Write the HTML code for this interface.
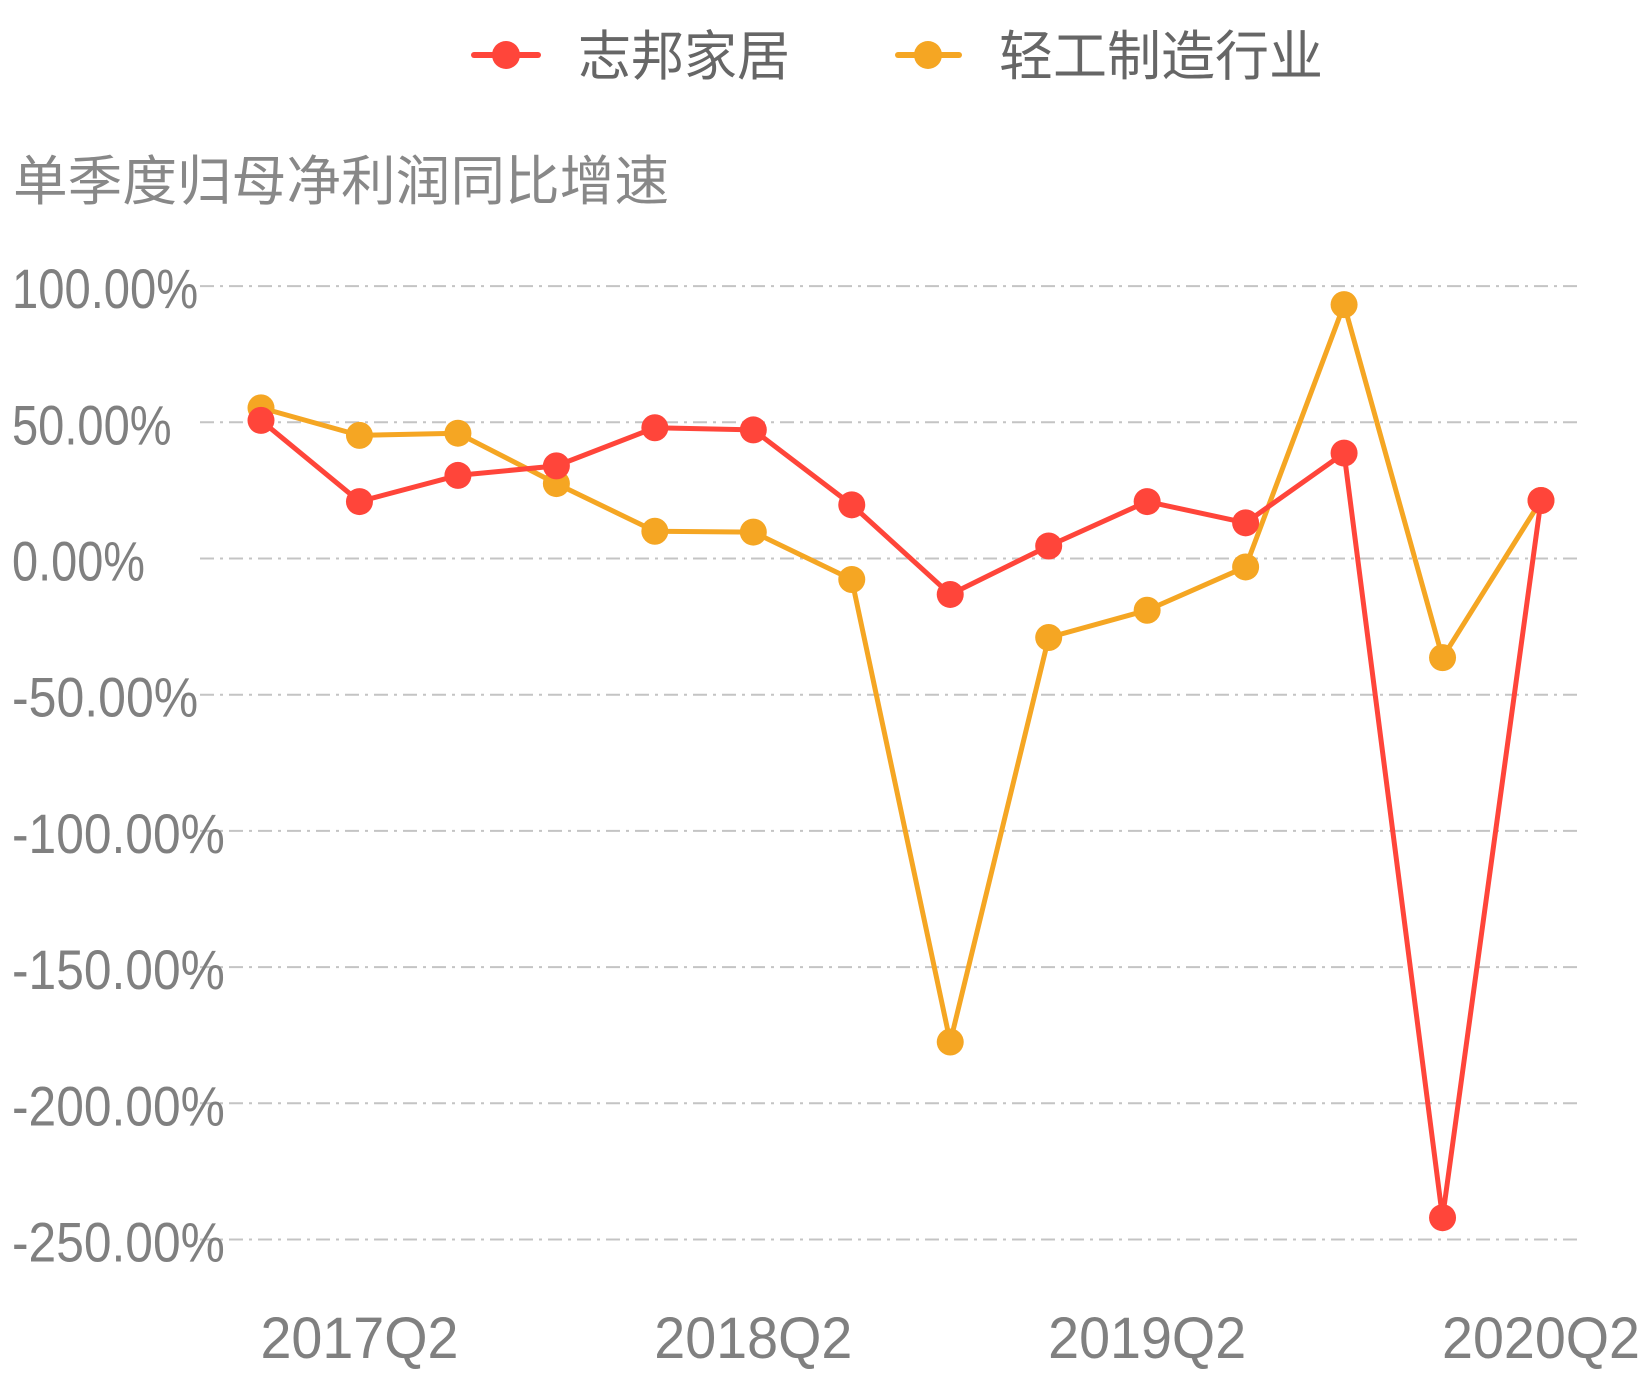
<!DOCTYPE html>
<html><head><meta charset="utf-8">
<style>
html,body{margin:0;padding:0;background:#fff;}
svg{display:block;font-family:"Liberation Sans","Noto Sans CJK SC",sans-serif;}
</style></head>
<body>
<svg id="chart" width="1644" height="1380" viewBox="0 0 1644 1380" xmlns="http://www.w3.org/2000/svg">
  <g>
    <g>
      <line x1="474" y1="55" x2="538" y2="55" stroke="#ff453a" stroke-width="6" stroke-linecap="round"/>
      <circle cx="506" cy="55" r="14" fill="#ff453a"/>
      <text x="578" y="75" font-size="54" fill="#666" textLength="212" lengthAdjust="spacingAndGlyphs">志邦家居</text>
    </g>
    <g>
      <line x1="898" y1="55" x2="959" y2="55" stroke="#f5a623" stroke-width="6" stroke-linecap="round"/>
      <circle cx="928" cy="55" r="14" fill="#f5a623"/>
      <text x="999" y="75" font-size="54" fill="#666" textLength="324" lengthAdjust="spacingAndGlyphs">轻工制造行业</text>
    </g>
  </g>
  <text x="13" y="200" font-size="54" fill="#888" textLength="656" lengthAdjust="spacingAndGlyphs">单季度归母净利润同比增速</text>
  <g id="grid"></g>
  <g id="ylabels"></g>
  <g id="xlabels"></g>
  <g id="series"></g>
</svg>
<script>
const categories = ["2017Q1","2017Q2","2017Q3","2017Q4","2018Q1","2018Q2","2018Q3","2018Q4","2019Q1","2019Q2","2019Q3","2019Q4","2020Q1","2020Q2"];
const zhibangValues = [50.7, 20.9, 30.5, 34.0, 48.0, 47.2, 19.7, -13.2, 4.6, 20.9, 13.1, 38.7, -242.0, 21.3];
const industryValues = [55.3, 45.2, 46.0, 27.5, 10.0, 9.7, -7.7, -177.5, -29.0, -19.0, -3.1, 93.2, -36.4, 21.3];
const yTicks = [100, 50, 0, -50, -100, -150, -200, -250];
const yTickLabels = ["100.00%","50.00%","0.00%","-50.00%","-100.00%","-150.00%","-200.00%","-250.00%"];
const xTickLabels = ["2017Q2","2018Q2","2019Q2","2020Q2"];

const NS = "http://www.w3.org/2000/svg";
const x0 = 261, x1 = 1541, gridL = 200, gridR = 1577;
function xScale(i){ return x0 + (x1 - x0) * i / (categories.length - 1); }
function yScale(v){ return 558.5 - v * (136.2 / 50); }
function mk(tag, attrs, parent){
  const e = document.createElementNS(NS, tag);
  for (const k in attrs) e.setAttribute(k, attrs[k]);
  parent.appendChild(e);
  return e;
}
const grid = document.getElementById('grid');
const yl = document.getElementById('ylabels');
yTicks.forEach((t, i) => {
  const y = yScale(t);
  const ln = mk('line', {x1: gridL, x2: gridR, y1: y, y2: y, stroke: '#c4c4c4', 'stroke-width': 2, 'stroke-dasharray': '14 6 3 6'}, grid);
  
  
  const lab = yTickLabels[i];
  const w = lab.length * 26.6;
  const tx = mk('text', {x: 12, y: y + 22, 'font-size': 56, fill: '#808080', textLength: w, lengthAdjust: 'spacingAndGlyphs'}, yl);
  tx.textContent = lab;
  
  
});
const xl = document.getElementById('xlabels');
xTickLabels.forEach(lab => {
  const i = categories.indexOf(lab);
  const tx = mk('text', {x: xScale(i), y: 1358, 'font-size': 58, fill: '#808080', 'text-anchor': 'middle', textLength: 198, lengthAdjust: 'spacingAndGlyphs'}, xl);
  tx.textContent = lab;
  
  
});
const sg = document.getElementById('series');
function drawSeries(vals, color, name){
  const g = mk('g', {}, sg);
  
  
  const pts = vals.map((v, i) => xScale(i) + ',' + yScale(v)).join(' ');
  const pl = mk('polyline', {points: pts, fill: 'none', stroke: color, 'stroke-width': 5, 'stroke-linejoin': 'round'}, g);
  
  
  vals.forEach((v, i) => {
    const c = mk('circle', {cx: xScale(i), cy: yScale(v), r: 13.5, fill: color}, g);
    
    
  });
}
drawSeries(industryValues, '#f5a623', 'light-industry-series');
drawSeries(zhibangValues, '#ff453a', 'zhibang-series');
</script>
</body></html>
